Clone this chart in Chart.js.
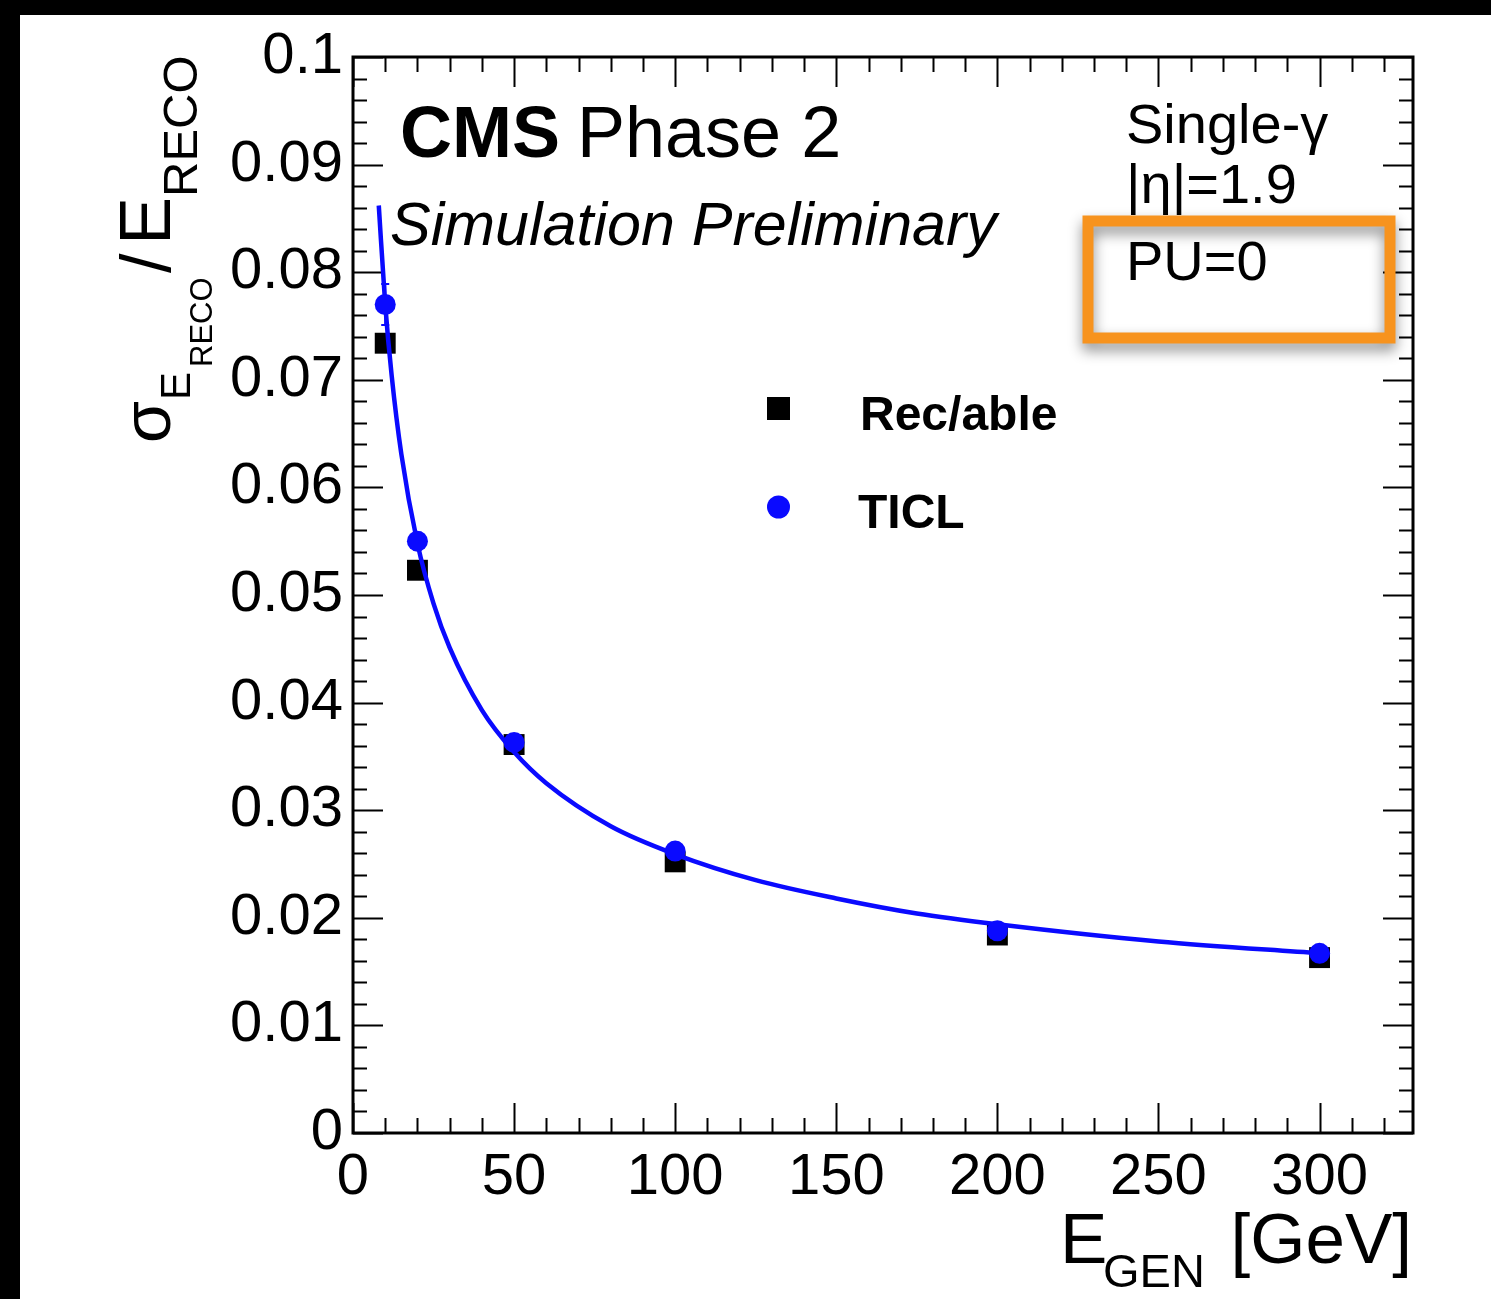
<!DOCTYPE html>
<html>
<head>
<meta charset="utf-8">
<title>Energy resolution</title>
<script src="https://cdn.jsdelivr.net/npm/chart.js@4.4.1/dist/chart.umd.min.js"></script>
<style>
    html, body { margin: 0; padding: 0; background: #fff; }
    #wrap { width: 1491px; height: 1299px; position: relative; }
    #resChart { display: block; }
</style>
</head>
<body>
<div id="wrap"><canvas id="resChart" width="1491" height="1299"></canvas></div>
<script>
// Values
const energies = [10, 20, 50, 100, 200, 300];
const recableRes = [0.0734, 0.0523, 0.0361, 0.0252, 0.0184, 0.0163];
const ticlRes = [0.0770, 0.0550, 0.0363, 0.0262, 0.0188, 0.0167];
const ticlErr = [0.0019, 0.0008, 0.0005, 0.0003, 0.0002, 0.0002];

// Fit curve, points
const fitE = [8, 10, 12, 15, 20, 25, 30, 40, 50, 60, 80, 100, 125, 150, 175, 200, 250, 300];
const fitRes = [0.0862, 0.0770, 0.0704, 0.0631, 0.0548, 0.0492, 0.0451, 0.0393, 0.0354, 0.0325, 0.0285, 0.0259, 0.0235, 0.0218, 0.0204, 0.0194, 0.0178, 0.0167];

const xTicks = [0, 50, 100, 150, 200, 250, 300];
const yTicks = [0, 0.01, 0.02, 0.03, 0.04, 0.05, 0.06, 0.07, 0.08, 0.09, 0.1];

const FONT = '"Liberation Sans", Arial, Helvetica, sans-serif';
const BLUE = '#0a0aff';

function toPoints(xs, ys) {
    return xs.map((x, i) => ({ x: x, y: ys[i] }));
}

// white page with the black strip at top / left like the screenshot
const background = {
    id: 'background',
    beforeDraw(chart) {
        const ctx = chart.ctx;
        ctx.save();
        ctx.fillStyle = '#fff';
        ctx.fillRect(0, 0, chart.width, chart.height);
        ctx.fillStyle = '#000';
        ctx.fillRect(0, 0, chart.width, 15);
        ctx.fillRect(0, 0, 20, chart.height);
        ctx.restore();
    }
};

// ROOT style frame with inward ticks on all four sides
const frameTicks = {
    id: 'frameTicks',
    beforeDatasetsDraw(chart) {
        const ctx = chart.ctx;
        const a = chart.chartArea;
        const xs = chart.scales.x;
        const ys = chart.scales.y;
        ctx.save();
        ctx.strokeStyle = '#000';
        ctx.lineWidth = 2;
        ctx.beginPath();
        for (let v = 0; v <= xs.max; v += 10) {
            const px = Math.round(xs.getPixelForValue(v)) + 0.5;
            const len = v % 50 === 0 ? 30 : 15;
            ctx.moveTo(px, a.bottom); ctx.lineTo(px, a.bottom - len);
            ctx.moveTo(px, a.top); ctx.lineTo(px, a.top + len);
        }
        for (let k = 0; k <= 50; k++) {
            const v = k * 0.002;
            const py = Math.round(ys.getPixelForValue(v)) + 0.5;
            const len = k % 5 === 0 ? 30 : 14;
            ctx.moveTo(a.left, py); ctx.lineTo(a.left + len, py);
            ctx.moveTo(a.right, py); ctx.lineTo(a.right - len, py);
        }
        ctx.stroke();
        ctx.lineWidth = 3;
        ctx.strokeRect(a.left, a.top, a.right - a.left, a.bottom - a.top);

        // error bars of the TICL points
        ctx.strokeStyle = BLUE;
        ctx.lineWidth = 2;
        ctx.beginPath();
        energies.forEach((e, i) => {
            const px = xs.getPixelForValue(e);
            const y1 = ys.getPixelForValue(ticlRes[i] + ticlErr[i]);
            const y2 = ys.getPixelForValue(ticlRes[i] - ticlErr[i]);
            ctx.moveTo(px, y1); ctx.lineTo(px, y2);
            ctx.moveTo(px - 4, y1); ctx.lineTo(px + 4, y1);
            ctx.moveTo(px - 4, y2); ctx.lineTo(px + 4, y2);
        });
        ctx.stroke();
        ctx.restore();
    }
};

function put(ctx, str, x, y, font, align) {
    ctx.font = font;
    ctx.textAlign = align || 'left';
    ctx.fillText(str, x, y);
}

const annotations = {
    id: 'annotations',
    afterDraw(chart) {
        const ctx = chart.ctx;
        ctx.save();
        ctx.fillStyle = '#000';
        ctx.textBaseline = 'alphabetic';

        put(ctx, 'CMS', 400, 157, 'bold 72px ' + FONT);
        put(ctx, 'Phase 2', 577, 157, '72px ' + FONT);
        put(ctx, 'Simulation Preliminary', 390, 245, 'italic 61px ' + FONT);

        put(ctx, 'Single-\u03b3', 1126, 143, '56px ' + FONT);
        put(ctx, '|\u03b7|=1.9', 1126, 203, '56px ' + FONT);
        put(ctx, 'PU=0', 1126, 280, '56px ' + FONT);

        // legend
        ctx.fillRect(767, 397, 23, 23);
        ctx.fillStyle = BLUE;
        ctx.beginPath();
        ctx.arc(778.5, 507, 11.5, 0, Math.PI * 2);
        ctx.fill();
        ctx.fillStyle = '#000';
        put(ctx, 'Rec/able', 860, 430, 'bold 48px ' + FONT);
        put(ctx, 'TICL', 858, 528, 'bold 48px ' + FONT);

        // x axis title
        put(ctx, 'E', 1060, 1263, '71px ' + FONT);
        put(ctx, 'GEN', 1103, 1287, '47px ' + FONT);
        put(ctx, '[GeV]', 1412, 1263, '71px ' + FONT, 'right');

        // y axis title, rotated
        ctx.save();
        ctx.translate(170, 443);
        ctx.rotate(-Math.PI / 2);
        put(ctx, '\u03c3', 0, 0, '68px ' + FONT);
        put(ctx, 'E', 43, 20, '42px ' + FONT);
        put(ctx, 'RECO', 76, 42, '31px ' + FONT);
        put(ctx, '/', 170, 0, '70px ' + FONT);
        put(ctx, 'E', 198, 0, '72px ' + FONT);
        put(ctx, 'RECO', 246, 27, '49px ' + FONT);
        ctx.restore();

        // orange highlight box from the slide
        ctx.save();
        ctx.shadowColor = 'rgba(0, 0, 0, 0.45)';
        ctx.shadowBlur = 14;
        ctx.shadowOffsetY = 7;
        ctx.strokeStyle = '#f7931e';
        ctx.lineWidth = 11;
        ctx.strokeRect(1088, 221, 302, 117);
        ctx.restore();

        ctx.restore();
    }
};

const ctx = document.getElementById('resChart').getContext('2d');

const resChart = new Chart(ctx, {
    type: 'scatter',
    data: {
        datasets: [
            {
                label: 'Rec/able',
                data: toPoints(energies, recableRes),
                pointStyle: 'rect',
                pointRadius: 14.8,
                backgroundColor: '#000',
                borderColor: '#000',
                borderWidth: 0,
                order: 3
            },
            {
                type: 'line',
                label: 'fit',
                data: toPoints(fitE, fitRes),
                borderColor: BLUE,
                borderWidth: 4.5,
                pointRadius: 0,
                fill: false,
                cubicInterpolationMode: 'monotone',
                order: 2
            },
            {
                label: 'TICL',
                data: toPoints(energies, ticlRes),
                pointStyle: 'circle',
                pointRadius: 10.5,
                backgroundColor: BLUE,
                borderColor: BLUE,
                borderWidth: 0,
                order: 1
            }
        ]
    },
    options: {
        responsive: false,
        animation: false,
        devicePixelRatio: 1,
        layout: {
            padding: { top: 57, right: 78, left: 0, bottom: 0 }
        },
        scales: {
            x: {
                type: 'linear',
                min: 0,
                max: 329,
                afterBuildTicks: (scale) => { scale.ticks = xTicks.map(v => ({ value: v })); },
                afterFit: (scale) => { scale.height = 166; },
                grid: { display: false },
                border: { display: false },
                ticks: {
                    color: '#000',
                    font: { family: FONT, size: 58 },
                    padding: 2,
                    maxRotation: 0
                }
            },
            y: {
                type: 'linear',
                min: 0,
                max: 0.1,
                afterBuildTicks: (scale) => { scale.ticks = yTicks.map(v => ({ value: v })); },
                afterFit: (scale) => { scale.width = 353; },
                grid: { display: false },
                border: { display: false },
                ticks: {
                    color: '#000',
                    font: { family: FONT, size: 58 },
                    padding: 2,
                    callback: (v) => (v === 0 ? '0' : String(+v.toFixed(2)))
                }
            }
        },
        plugins: {
            legend: { display: false },
            tooltip: { enabled: false }
        }
    },
    plugins: [background, frameTicks, annotations]
});
</script>
</body>
</html>
